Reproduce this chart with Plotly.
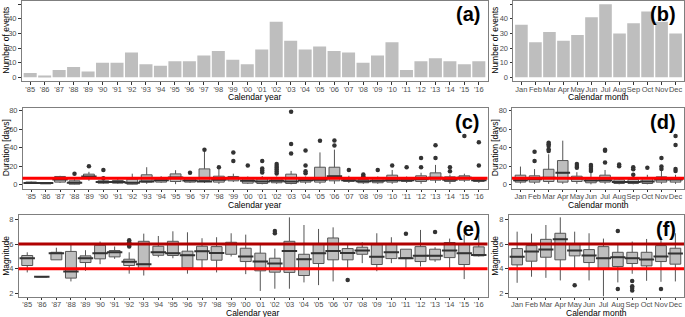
import plotly.graph_objects as go

W, H = 685, 317

years = ["'%02d" % (y % 100) for y in range(1985, 2017)]
months = ["Jan", "Feb", "Mar", "Apr", "May", "Jun", "Jul", "Aug", "Sep", "Oct", "Nov", "Dec"]

# (a) number of events per year
events_year = [3, 1, 5, 7, 4, 10, 10, 17, 9, 8, 11, 11, 15, 18, 12, 9,
               19, 38, 25, 19, 21, 18, 17, 10, 15, 24, 5, 11, 13, 11, 9, 11]
# (b) number of events per month
events_month = [36, 24, 31, 25, 29, 41, 50, 30, 37, 45, 38, 30]

# (c) duration per year: box statistics
dur_y_lo  = [1, 1, 2, 0.5, 4.3, 1, 1, 0.5, 1, 2, 0.7, 2, 2, 1, 3, 1,
             0.5, 1, 0.5, 1, 1, 1, 2, 1, 1, 1, 2, 1, 2, 1, 3, 2]
dur_y_q1  = [1.5, 1, 2.9, 0.7, 7.2, 1.8, 1.8, 0.7, 2.9, 2.9, 3.6, 2.9, 3.6, 2.9, 4.3, 1.8,
             1.4, 2.2, 1.4, 2.9, 2.9, 4.3, 3.6, 2.2, 2.2, 2.9, 3.6, 3.6, 5, 3.6, 5, 3.6]
dur_y_med = [2, 2, 5.7, 2.2, 9, 2.9, 2.9, 2.2, 3.6, 5, 7.9, 4.7, 3.6, 5.4, 7.2, 4.3,
             3.6, 4.3, 3.6, 5, 5.4, 9.3, 5, 3.9, 4.3, 5, 5, 6.1, 7.5, 5.4, 7.5, 5]
dur_y_q3  = [3, 2, 9, 4.3, 11.5, 4.3, 4.7, 6.1, 10.8, 6.8, 11.8, 6.5, 17.2, 9.3, 9, 6.5,
             6.5, 6.5, 11.5, 6.5, 19, 19, 6.8, 5.7, 6.8, 10.4, 6.5, 9.7, 12.9, 8.6, 9.7, 6.5]
dur_y_hi  = [3.5, 2.5, 9.7, 6, 14, 5, 6.5, 12, 19, 9.3, 15.8, 8, 37.6, 17, 12, 9,
             9.5, 9, 15, 9, 35, 38, 9.7, 7, 9, 16, 9, 13, 21.5, 11, 12, 8]
dur_y_out_x = ["'88", "'89", "'90", "'90", "'96", "'97", "'98", "'99", "'99", "'00",
               "'01", "'01", "'01", "'01", "'02", "'02", "'02", "'02", "'02", "'02",
               "'03", "'03", "'03", "'04", "'04", "'04", "'04", "'05", "'06", "'06",
               "'07", "'08", "'08", "'09", "'10", "'11", "'12", "'12", "'13", "'13",
               "'14", "'14", "'15", "'16", "'16"]
dur_y_out_v = [12, 20, 16, 7.2, 13, 38, 19, 34.8, 25.8, 20.8,
               25.8, 17.6, 15.4, 13.3, 22.6, 20.4, 18.3, 16.5, 14.3, 12.2,
               78.9, 44, 33.7, 37, 20.8, 14.7, 12.5, 47.7, 48, 42.6,
               16.1, 11, 9.3, 16.1, 20.8, 19, 29, 19, 42.7, 29,
               19, 14.7, 52.7, 46, 20.8]

# (d) duration per month: box statistics
dur_m_lo  = [1.4, 1, 1, 1, 1, 0.5, 1, 0.5, 0.5, 0.5, 1, 1]
dur_m_q1  = [2.9, 2.9, 3.6, 2.9, 3.6, 2.2, 2.9, 1.4, 1.4, 1.4, 2.9, 2.9]
dur_m_med = [5, 6.1, 7.5, 12.9, 6.8, 4.7, 5, 2.9, 2.9, 3.6, 5.7, 5.7]
dur_m_q3  = [10.4, 9.7, 16.8, 26.2, 9.3, 7.2, 10.4, 5.4, 5.7, 6.8, 8.6, 7.9]
dur_m_hi  = [19.7, 17, 33, 47.7, 13.6, 13, 16, 8.2, 9.5, 10.8, 15, 10.8]
dur_m_out_x = ["Feb", "Feb", "Mar", "Mar", "Mar", "Mar", "Mar", "May", "May", "May",
               "Jun", "Jun", "Jun", "Jun", "Jul", "Jul", "Jul", "Aug", "Aug",
               "Sep", "Sep", "Sep", "Oct", "Nov", "Nov", "Nov",
               "Dec", "Dec", "Dec", "Dec"]
dur_m_out_v = [35.8, 25.8, 45.5, 43.7, 42, 38.4, 36.6, 22.6, 20.4, 18.3,
               21.5, 19.4, 17.2, 15, 38, 36.9, 24, 21.9, 20,
               19, 16.8, 10.8, 18.3, 29, 19.7, 17.2,
               52.7, 43, 17.2, 15]

# (e) magnitude per year: box statistics
mag_y_lo  = [3.7, 3.35, 4.72, 2.97, 3.83, 4.37, 4.8, 3.6, 3.45, 4.93, 4.85, 3.6, 3.9, 3.7, 4.99, 3.56,
             2.2, 2.38, 2.38, 2.89, 2.67, 2.97, 4.04, 4.45, 3.8, 4.45, 4.04, 4.18, 4.56, 4.04, 3.16, 4.99]
mag_y_q1  = [4.26, 3.35, 4.72, 3.24, 4.5, 4.8, 4.96, 4.26, 3.96, 5.09, 5.07, 4.07, 4.72, 4.69, 5.17, 4.58,
             3.83, 3.72, 3.7, 3.45, 4.42, 4.72, 4.72, 5.17, 4.34, 4.82, 4.82, 4.58, 4.72, 4.9, 4.34, 5.04]
mag_y_med = [4.85, 3.35, 5.26, 3.78, 4.85, 5.26, 5.33, 4.56, 4.37, 5.33, 5.26, 5.1, 5.42, 5.28, 6.0, 4.99,
             4.58, 4.42, 5.44, 4.77, 5.26, 5.44, 5.28, 5.47, 4.96, 5.33, 4.84, 5.04, 5.04, 5.47, 5.26, 5.12]
mag_y_q3  = [5.07, 3.35, 5.33, 5.4, 5.04, 5.9, 5.47, 4.77, 6.22, 5.82, 6.22, 5.42, 5.82, 5.79, 6.14, 5.66,
             5.26, 4.85, 6.22, 5.17, 6.0, 6.49, 5.63, 5.74, 5.95, 6.04, 5.58, 5.79, 5.58, 6.12, 6.04, 5.77]
mag_y_hi  = [5.33, 3.35, 5.7, 6.0, 5.5, 6.2, 5.8, 5.33, 6.84, 6.65, 7.03, 6.95, 6.47, 6.55, 6.87, 6.76,
             6.04, 5.63, 8.16, 7.54, 7.22, 7.35, 6.0, 6.14, 6.87, 6.55, 5.58, 7.14, 5.74, 6.44, 6.76, 6.7]
mag_y_out_x = ["'92", "'92", "'92", "'92", "'02", "'02", "'07", "'11", "'13"]
mag_y_out_v = [6.3, 6.15, 5.95, 5.8, 7.06, 6.87, 3.08, 6.84, 6.98]

# (f) magnitude per month: box statistics
mag_m_lo  = [2.86, 3.35, 3.26, 3.05, 4.04, 3.05, 1.76, 2.89, 3.59, 3.02, 2.94, 2.97]
mag_m_q1  = [4.31, 4.61, 4.93, 4.72, 5.04, 4.5, 4.02, 4.18, 4.42, 4.23, 4.58, 4.37]
mag_m_med = [4.96, 5.39, 5.55, 6.38, 5.47, 5.07, 4.85, 4.93, 4.85, 4.74, 4.99, 5.23]
mag_m_q3  = [5.63, 5.87, 6.38, 6.87, 6.04, 5.55, 5.79, 5.33, 5.33, 5.33, 5.87, 5.66]
mag_m_hi  = [7.0, 6.84, 7.54, 8.16, 7.0, 6.87, 6.44, 6.0, 6.2, 6.41, 6.57, 6.87]
mag_m_out_x = ["May", "Aug", "Aug", "Sep", "Sep", "Sep", "Sep", "Nov"]
mag_m_out_v = [2.67, 7.06, 2.35, 3.0, 2.59, 2.43, 2.24, 2.35]

dur_ref = 7
mag_ref = [4, 6]

FONT = "Liberation Sans, Arial, sans-serif"
GREY = "#bebebe"
DARK = "#333333"
TICKC = "#4d4d4d"

# panel boxes in pixels: (x0, x1, ytop, ybottom)
P = {
    1: (21.5, 487.5, 0.5, 81),
    2: (513, 684, 0.5, 81),
    3: (22.5, 487.5, 108, 188.5),
    4: (512, 684, 108, 188.5),
    5: (18.5, 487.5, 215, 296.5),
    6: (508.5, 684, 215, 296.5),
}

fig = go.Figure()

fig.add_trace(go.Bar(x=years, y=events_year, marker=dict(color=GREY, line=dict(width=0)),
                     xaxis="x", yaxis="y", showlegend=False))
fig.add_trace(go.Bar(x=months, y=events_month, marker=dict(color=GREY, line=dict(width=0)),
                     xaxis="x2", yaxis="y2", showlegend=False))


def add_box(idx, cats, lo, q1, med, q3, hi, ox, ov, medsize):
    ax = "" if idx == 1 else str(idx)
    fig.add_trace(go.Box(x=cats, lowerfence=lo, q1=q1, median=med, q3=q3, upperfence=hi,
                         fillcolor=GREY, line=dict(color="#555555", width=1),
                         whiskerwidth=0, width=0.75, boxpoints=False,
                         xaxis="x" + ax, yaxis="y" + ax, showlegend=False, hoverinfo="skip"))
    fig.add_trace(go.Scatter(x=cats, y=med, mode="markers",
                             marker=dict(symbol="line-ew", size=medsize,
                                         line=dict(color=DARK, width=2)),
                             xaxis="x" + ax, yaxis="y" + ax, showlegend=False, hoverinfo="skip"))
    fig.add_trace(go.Scatter(x=ox, y=ov, mode="markers",
                             marker=dict(color=DARK, size=4.5),
                             xaxis="x" + ax, yaxis="y" + ax, showlegend=False, hoverinfo="skip"))


add_box(3, years, dur_y_lo, dur_y_q1, dur_y_med, dur_y_q3, dur_y_hi, dur_y_out_x, dur_y_out_v, 11)
add_box(4, months, dur_m_lo, dur_m_q1, dur_m_med, dur_m_q3, dur_m_hi, dur_m_out_x, dur_m_out_v, 10.5)
add_box(5, years, mag_y_lo, mag_y_q1, mag_y_med, mag_y_q3, mag_y_hi, mag_y_out_x, mag_y_out_v, 11)
add_box(6, months, mag_m_lo, mag_m_q1, mag_m_med, mag_m_q3, mag_m_hi, mag_m_out_x, mag_m_out_v, 10.8)

layout = dict(width=W, height=H, margin=dict(l=0, r=0, t=0, b=0),
              paper_bgcolor="white", plot_bgcolor="white", bargap=0.1,
              font=dict(family=FONT, color=TICKC, size=7.5), showlegend=False)

yranges = {1: [-2.5, 52.5], 2: [-2.5, 52.5], 3: [-4, 83], 4: [-4, 83], 5: [1.75, 8.35], 6: [1.75, 8.35]}
ytickv = {1: [0, 10, 20, 30, 40, 50], 3: [0, 20, 40, 60, 80], 5: [2, 4, 6, 8]}

for i, (x0, x1, yt, yb) in P.items():
    ax = "" if i == 1 else str(i)
    ncat = 32 if i % 2 == 1 else 12
    fig_cats = years if i % 2 == 1 else months
    layout["xaxis" + ax] = dict(domain=[x0 / W, x1 / W], anchor="y" + ax,
                                range=[-0.6, ncat - 0.4], type="category",
                                categoryorder="array", categoryarray=fig_cats,
                                showline=True, mirror=True, linecolor="#7f7f7f", linewidth=1,
                                ticks="outside", ticklen=2.5, tickcolor=DARK, tickwidth=1,
                                tickangle=0, automargin=False, ticklabelstandoff=-2,
                                showgrid=False, zeroline=False,
                                tickfont=dict(size=7.5, color=TICKC, family=FONT))
    tv = ytickv[i if i % 2 == 1 else i - 1]
    layout["yaxis" + ax] = dict(domain=[1 - yb / H, 1 - yt / H], anchor="x" + ax,
                                range=yranges[i], tickvals=tv, automargin=False,
                                showline=True, mirror=True, linecolor="#7f7f7f", linewidth=1,
                                ticks="outside", ticklen=2.5, tickcolor=DARK, tickwidth=1,
                                showgrid=False, zeroline=False,
                                tickfont=dict(size=7.5, color=TICKC, family=FONT))

shapes = []
for i in (3, 4):
    shapes.append(dict(type="line", xref="x%d domain" % i, yref="y%d" % i, x0=0, x1=1,
                       y0=dur_ref, y1=dur_ref, line=dict(color="#ff0000", width=3), layer="above"))
for i in (5, 6):
    shapes.append(dict(type="line", xref="x%d domain" % i, yref="y%d" % i, x0=0, x1=1,
                       y0=mag_ref[0], y1=mag_ref[0], line=dict(color="#ff0000", width=3), layer="above"))
    shapes.append(dict(type="line", xref="x%d domain" % i, yref="y%d" % i, x0=0, x1=1,
                       y0=mag_ref[1], y1=mag_ref[1], line=dict(color="#b00000", width=3), layer="above"))
layout["shapes"] = shapes

ann = []
labels = {1: "(a)", 2: "(b)", 3: "(c)", 4: "(d)", 5: "(e)", 6: "(f)"}
ytitles = {1: "Number of events", 2: "Number of events", 3: "Duration [days]",
           4: "Duration [days]", 5: "Magnitude", 6: "Magnitude"}
for i, (x0, x1, yt, yb) in P.items():
    xt = "x" if i == 1 else "x%d" % i
    ann.append(dict(text="<b>%s</b>" % labels[i], xref=xt + " domain", yref="paper",
                    x=(x1 - 6 - x0) / (x1 - x0), y=1 - (yt + 1) / H,
                    xanchor="right", yanchor="top", showarrow=False,
                    font=dict(size=20, color="black", family=FONT)))
    ann.append(dict(text="Calendar year" if i % 2 == 1 else "Calendar month",
                    xref="paper", yref="paper", x=(x0 + x1) / 2 / W, y=1 - (yb + 16) / H,
                    xanchor="center", yanchor="middle", showarrow=False,
                    font=dict(size=8.5, color="black", family=FONT)))
    tx = 6 if i % 2 == 1 else 495
    ann.append(dict(text=ytitles[i], xref="paper", yref="paper", textangle=-90,
                    x=tx / W, y=1 - (yt + yb) / 2 / H, xanchor="center", yanchor="middle",
                    showarrow=False, font=dict(size=8.5, color="black", family=FONT)))
layout["annotations"] = ann

fig.update_layout(**layout)
fig.write_html("out.html", config={"displayModeBar": False},
               post_script="document.body.style.margin='0px';document.body.style.overflow='hidden';")
